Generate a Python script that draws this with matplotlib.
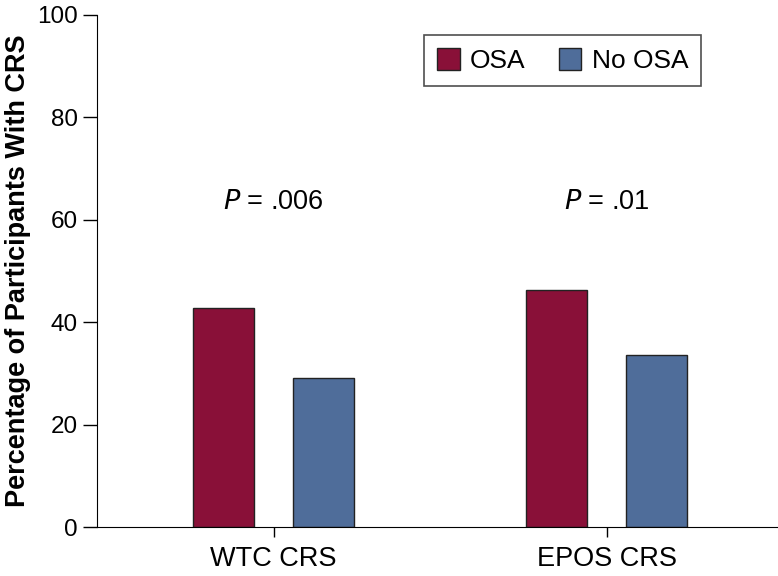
import numpy as np
import matplotlib.pyplot as plt

plt.rcParams['font.family'] = ['Liberation Sans', 'DejaVu Sans']

groups = ['WTC CRS', 'EPOS CRS']
osa = [42.7, 46.2]
no_osa = [29.2, 33.6]
pvals = ['.006', '.01']

fig = plt.figure(figsize=(7.78, 5.76), dpi=100)
ax = fig.add_axes([0.1247, 0.085, 0.8753, 0.889])

x = np.arange(len(groups))
w = 0.183
off = 0.15
ax.bar(x - off, osa, w, color='#891038', edgecolor='#222222', linewidth=1, label='OSA')
ax.bar(x + off, no_osa, w, color='#4F6D9A', edgecolor='#222222', linewidth=1, label='No OSA')

for xi, p in zip(x, pvals):
    ax.text(xi, 63.5, '$P$ = ' + p, ha='center', va='center', fontsize=19.5)

ax.set_xlim(-0.53, 1.515)
ax.set_ylim(0, 100)
ax.set_yticks([0, 20, 40, 60, 80, 100])
ax.set_xticks(x)
ax.set_xticklabels(groups)
ax.tick_params(axis='y', labelsize=17.5, length=10, width=1, pad=4)
ax.tick_params(axis='x', labelsize=19.5, length=7, width=1, pad=7)
ax.set_ylabel('Percentage of Participants With CRS', fontsize=19.5, fontweight='bold', labelpad=4)

for s in ['top', 'right']:
    ax.spines[s].set_visible(False)

leg = ax.legend(ncol=2, loc='upper left', bbox_to_anchor=(0.48, 0.961), fontsize=19,
                frameon=True, fancybox=False, edgecolor='#222222', handlelength=0.85,
                handleheight=0.9, columnspacing=1.25, handletextpad=0.4, borderpad=0.5,
                borderaxespad=0)
leg.get_frame().set_linewidth(1.2)

plt.savefig('out.png', dpi=100)
